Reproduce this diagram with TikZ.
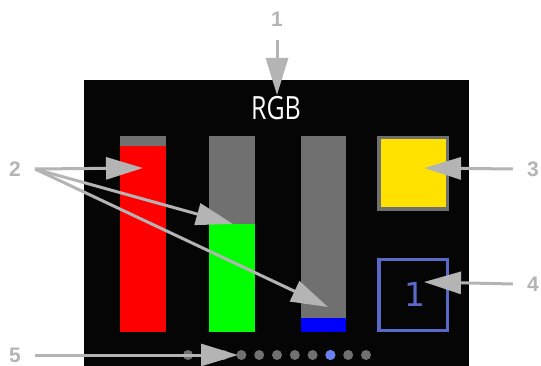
\documentclass[tikz,border=0pt]{standalone}
\usepackage{fontspec}
\setmainfont{Liberation Sans}
\newfontfamily\screenfont{Open Sans}
\newfontfamily\digitfont{DejaVu Sans}
\usetikzlibrary{arrows.meta}
\definecolor{screenbg}{HTML}{050505}
\definecolor{bargray}{HTML}{707070}
\definecolor{calloutgray}{HTML}{B4B4B4}
\definecolor{lcdyellow}{HTML}{FFE200}
\definecolor{frameblue}{HTML}{5A68C8}
\definecolor{dotblue}{HTML}{6A80F0}
\tikzset{
  callout/.style={draw=calloutgray, line width=3pt, -{Triangle[length=37pt,width=22pt]}},
  calloutlabel/.style={text=calloutgray, inner sep=14pt, font=\fontsize{21}{21}\selectfont\bfseries},
  pagedot/.style={circle, fill=bargray, minimum size=10pt, inner sep=0pt},
}
\begin{document}
\begin{tikzpicture}[x=1pt, y=-1pt]
    \useasboundingbox (0,0) rectangle (541,366);
    % Screen
    \fill[screenbg] (84,80) rectangle (469,366);
    \node[text=white, font=\screenfont\fontsize{32}{32}\selectfont, xscale=0.78] (title) at (276,108.5) {RGB};
    % Bars
    \fill[bargray] (120,136) rectangle (166,332);
    \fill[red] (120,146) rectangle (166,332);
    \fill[bargray] (209,136) rectangle (255,332);
    \fill[green] (209,224) rectangle (255,332);
    \fill[bargray] (301,136) rectangle (346,332);
    \fill[blue] (301,318) rectangle (346,332);
    % Colour preview and counter
    \draw[bargray, line width=3.3pt, fill=lcdyellow] (379,137.5) rectangle (447.5,209);
    \draw[frameblue, line width=3.3pt] (379,259.5) rectangle (447.5,330.5);
    \node[text=frameblue, font=\digitfont\fontsize{33}{33}\selectfont] (count) at (415,294) {1};
    % Page dots
    \foreach \i in {0,...,10}
        \node[pagedot] (dot\i) at (188+17.8*\i,355) {};
    \node[pagedot, fill=dotblue] at (dot8) {};
    % Callouts
    \node[calloutlabel] (lbl1) at (277,19) {1};
    \node[calloutlabel] (lbl2) at (15,169) {2};
    \node[calloutlabel] (lbl3) at (533,169) {3};
    \node[calloutlabel] (lbl4) at (533,284) {4};
    \node[calloutlabel] (lbl5) at (15,355) {5};
    \coordinate (titletip) at (277,95);
    \coordinate (redtip) at (143,168);
    \coordinate (greentip) at (233,224);
    \coordinate (bluetip) at (328,307);
    \coordinate (yellowtip) at (424,168);
    \coordinate (counttip) at (424,282);
    \coordinate (dottip) at (238,355);
    \draw[callout] (lbl1.south) -- (titletip);
    \draw[callout] (lbl2.east) -- (redtip);
    \draw[callout] (lbl2.east) -- (greentip);
    \draw[callout] (lbl2.east) -- (bluetip);
    \draw[callout] (lbl3.west) -- (yellowtip);
    \draw[callout] (lbl4.west) -- (counttip);
    \draw[callout] (lbl5.east) -- (dottip);
\end{tikzpicture}
\end{document}
